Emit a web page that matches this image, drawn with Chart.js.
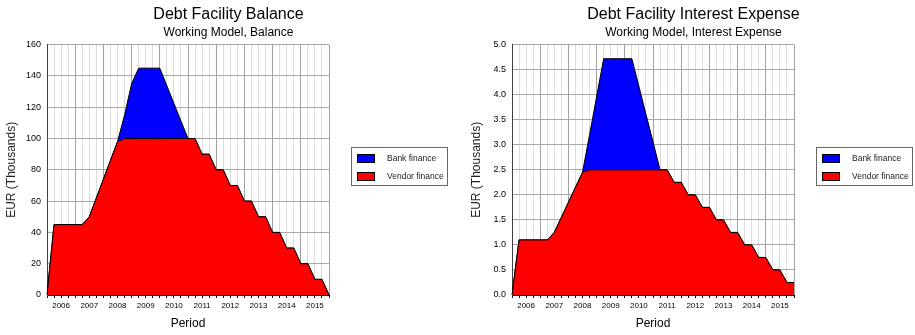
<!DOCTYPE html>
<html>
<head>
<meta charset="utf-8">
<script src="https://cdn.jsdelivr.net/npm/chart.js@4.4.0/dist/chart.umd.min.js"></script>
<style>
  html, body { margin: 0; padding: 0; background: #fff; overflow: hidden; width: 915px; height: 335px; }
  .panel { position: absolute; top: 0; width: 457px; height: 335px; }
  .legend { position: absolute; left: 351px; top: 147px; width: 95px; height: 37px; border: 1px solid #666; font: 8.5px 'Liberation Sans', Arial, sans-serif; color: #222; }
  .item { position: absolute; left: 5px; width: 88px; height: 10px; }
  .sw { position: absolute; left: 0; top: 0; width: 16px; height: 7px; border: 1px solid #000; }
  .lbl { position: absolute; left: 30px; top: 0; line-height: 9px; white-space: nowrap; }
</style>
</head>
<body>
<div class="panel" style="left:0">
  <canvas id="balanceChart" width="457" height="335"></canvas>
  <div class="legend" id="balanceLegend"></div>
</div>
<div class="panel" style="left:465px">
  <canvas id="interestChart" width="457" height="335"></canvas>
  <div class="legend" id="interestLegend"></div>
</div>
<script>
// years shown on the x axis, one label per year
var years = ['2006', '2007', '2008', '2009', '2010', '2011', '2012', '2013', '2014', '2015']
// quarter boundaries (41 points, start of 2006 Q1 .. end of 2015 Q4)
var periods = []
years.forEach(function (y) {
  periods.push(y + ' Q1', y + ' Q2', y + ' Q3', y + ' Q4')
})
periods.push('2016 Q1')

var seriesNames = ['Vendor finance', 'Bank finance']

// EUR thousands
var vendorBalance = [0, 45, 45, 45, 45, 45, 50, 62, 74, 86, 98,
  100, 100, 100, 100, 100, 100, 100, 100, 100, 100, 100,
  90, 90, 80, 80, 70, 70, 60, 60, 50, 50, 40, 40, 30, 30, 20, 20, 10, 10, 0]
var bankBalance = [0, 0, 0, 0, 0, 0, 0, 0, 0, 0, 0,
  15, 35, 45, 45, 45, 45, 33.75, 22.5, 11.25,
  0, 0, 0, 0, 0, 0, 0, 0, 0, 0, 0, 0, 0, 0, 0, 0, 0, 0, 0, 0, 0]

var vendorInterest = [0, 1.1, 1.1, 1.1, 1.1, 1.1, 1.25, 1.55, 1.85, 2.15, 2.45,
  2.5, 2.5, 2.5, 2.5, 2.5, 2.5, 2.5, 2.5, 2.5, 2.5, 2.5, 2.5,
  2.25, 2.25, 2, 2, 1.75, 1.75, 1.5, 1.5, 1.25, 1.25, 1, 1, 0.75, 0.75, 0.5, 0.5, 0.25, 0.25]
var bankInterest = [0, 0, 0, 0, 0, 0, 0, 0, 0, 0, 0,
  0.7, 1.46, 2.22, 2.22, 2.22, 2.22, 2.22, 1.67, 1.11, 0.56,
  0, 0, 0, 0, 0, 0, 0, 0, 0, 0, 0, 0, 0, 0, 0, 0, 0, 0, 0, 0]

var colors = ['#ff0000', '#0000ff']

Chart.defaults.font.family = "'Liberation Sans', Arial, sans-serif"
Chart.defaults.color = '#000'

function legend(id)
{
  // bank finance listed first, like the original
  var el = document.getElementById(id)
  var order = [1, 0]
  order.forEach(function (k, n) {
    var item = document.createElement('div')
    item.className = 'item'
    item.style.top = (6 + n * 18) + 'px'
    item.innerHTML = '<div class="sw" style="background:' + colors[k] + '"></div><div class="lbl">' + seriesNames[k] + '</div>'
    el.appendChild(item)
  })
}

function makeChart(id, title, subtitle, vendor, bank, yMax, yStep, yDigits)
{
  var ctx = document.getElementById(id).getContext('2d')
  return new Chart(ctx, {
    type: 'line',
    data: {
      labels: periods,
      datasets: [{
        label: seriesNames[0],
        data: vendor,
        backgroundColor: colors[0],
        borderColor: '#000',
        borderWidth: 1,
        fill: 'origin',
        pointRadius: 0,
        tension: 0
      }, {
        label: seriesNames[1],
        data: bank,
        backgroundColor: colors[1],
        borderColor: '#000',
        borderWidth: 1,
        fill: '-1',
        pointRadius: 0,
        tension: 0
      }]
    },
    options: {
      responsive: false,
      animation: false,
      events: [],
      layout: { padding: 0 },
      plugins: {
        legend: { display: false },
        tooltip: { enabled: false },
        title: { display: true, text: title, color: '#000', font: { size: 16, weight: 'normal' }, padding: { top: 5.4, bottom: 0 } },
        subtitle: { display: true, text: subtitle, color: '#000', font: { size: 12 }, padding: { top: 0.5, bottom: 5.2 } }
      },
      scales: {
        x: {
          offset: false,
          grid: {
            color: function (c) { return c.index === 0 ? '#404040' : (c.index % 4 === 0 ? '#a0a0a0' : '#dcdcdc') },
            tickColor: '#000',
            tickLength: 3,
            drawTicks: true
          },
          border: { color: '#000' },
          ticks: {
            autoSkip: false,
            maxRotation: 0,
            minRotation: 0,
            padding: 2.5,
            color: '#000',
            font: { size: 8 },
            callback: function (v, i) { return i % 4 === 2 ? years[i / 4 | 0] : '' }
          },
          title: { display: true, text: 'Period', color: '#000', font: { size: 12 }, padding: { top: 0, bottom: 4.5 } },
          afterFit: function (s) { s.height = 40 }
        },
        y: {
          stacked: true,
          min: 0,
          max: yMax,
          grid: {
            color: function (c) { return c.index === 0 ? '#000' : '#a8a8a8' },
            drawTicks: false
          },
          border: { color: '#404040' },
          ticks: {
            stepSize: yStep,
            padding: 6,
            color: '#000',
            font: { size: 9 },
            callback: function (v) { return v.toFixed(yDigits) }
          },
          title: { display: true, text: 'EUR (Thousands)', color: '#222', font: { size: 12 }, padding: { top: 4.8, bottom: 0 } },
          afterFit: function (s) { s.width = 47 }
        },
        pad: {
          axis: 'y',
          position: 'right',
          display: true,
          grid: { display: false },
          border: { display: false },
          ticks: { display: false },
          afterFit: function (s) { s.width = 128 }
        }
      }
    }
  })
}

makeChart('balanceChart', 'Debt Facility Balance', 'Working Model, Balance', vendorBalance, bankBalance, 160, 20, 0)
makeChart('interestChart', 'Debt Facility Interest Expense', 'Working Model, Interest Expense', vendorInterest, bankInterest, 5, 0.5, 1)
legend('balanceLegend')
legend('interestLegend')
</script>
</body>
</html>
